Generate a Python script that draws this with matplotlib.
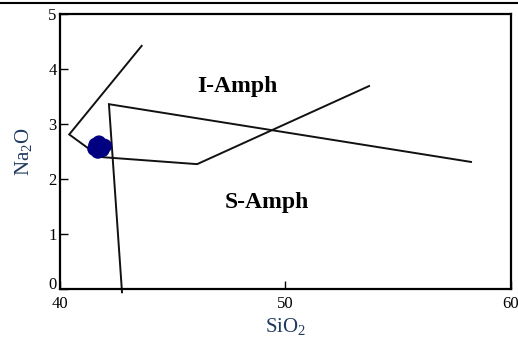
import numpy as np
import matplotlib
matplotlib.use("Agg")
import matplotlib.pyplot as plt
import matplotlib.transforms as mtrans
from matplotlib.lines import Line2D

plt.rcParams.update({"font.family": "Liberation Serif", "mathtext.default": "regular"})

# field boundaries (SiO2, Na2O)
upper_x = [43.64, 40.43, 41.80, 46.10, 53.72]
upper_y = [4.42, 2.81, 2.40, 2.27, 3.69]
cross_x = [42.77, 42.19, 58.24]
cross_y = [-0.06, 3.36, 2.31]

# samples
sio2 = [41.55, 41.75, 42.00, 41.70, 41.60, 41.90]
na2o = [2.55, 2.66, 2.60, 2.50, 2.62, 2.53]

fields = [("I-Amph", 47.9, 3.69), ("S-Amph", 49.2, 1.58)]

fig = plt.figure(figsize=(5.18, 3.41), dpi=100)
ax = fig.add_axes([0.1149, 0.1525, 0.8711, 0.8065])

ax.plot(upper_x, upper_y, color="#111111", lw=1.4, solid_joinstyle="miter", clip_on=False)
ax.plot(cross_x, cross_y, color="#111111", lw=1.4, solid_joinstyle="miter", clip_on=False)
ax.scatter(sio2, na2o, s=110, color="#000080", edgecolors="none", zorder=3)

for name, x, y in fields:
    ax.text(x, y, name, ha="center", va="center", fontsize=17, fontweight="bold")

ax.set_xlim(40, 60)
ax.set_ylim(0, 5)
ax.set_xticks([40, 50, 60])
ax.set_yticks([0, 1, 2, 3, 4, 5])
ax.tick_params(axis="both", direction="in", length=6, width=1, labelsize=12)
ax.tick_params(axis="x", pad=5)
ax.tick_params(axis="y", pad=2)
for s in ax.spines.values():
    s.set_linewidth(1.6)

# lift the "0" a little so it clears the "40" below it
zero = ax.get_yticklabels()[0]
zero.set_transform(zero.get_transform() + mtrans.ScaledTranslation(0, 4 / 72, fig.dpi_scale_trans))

ax.set_xlabel("SiO$_2$", fontsize=15, color="#1f3a5f", labelpad=3)
ax.set_ylabel("Na$_2$O", fontsize=15, color="#1f3a5f", labelpad=10)

fig.add_artist(Line2D([0, 1], [0.991, 0.991], color="black", lw=1.5))

fig.savefig("out.png", dpi=100)
